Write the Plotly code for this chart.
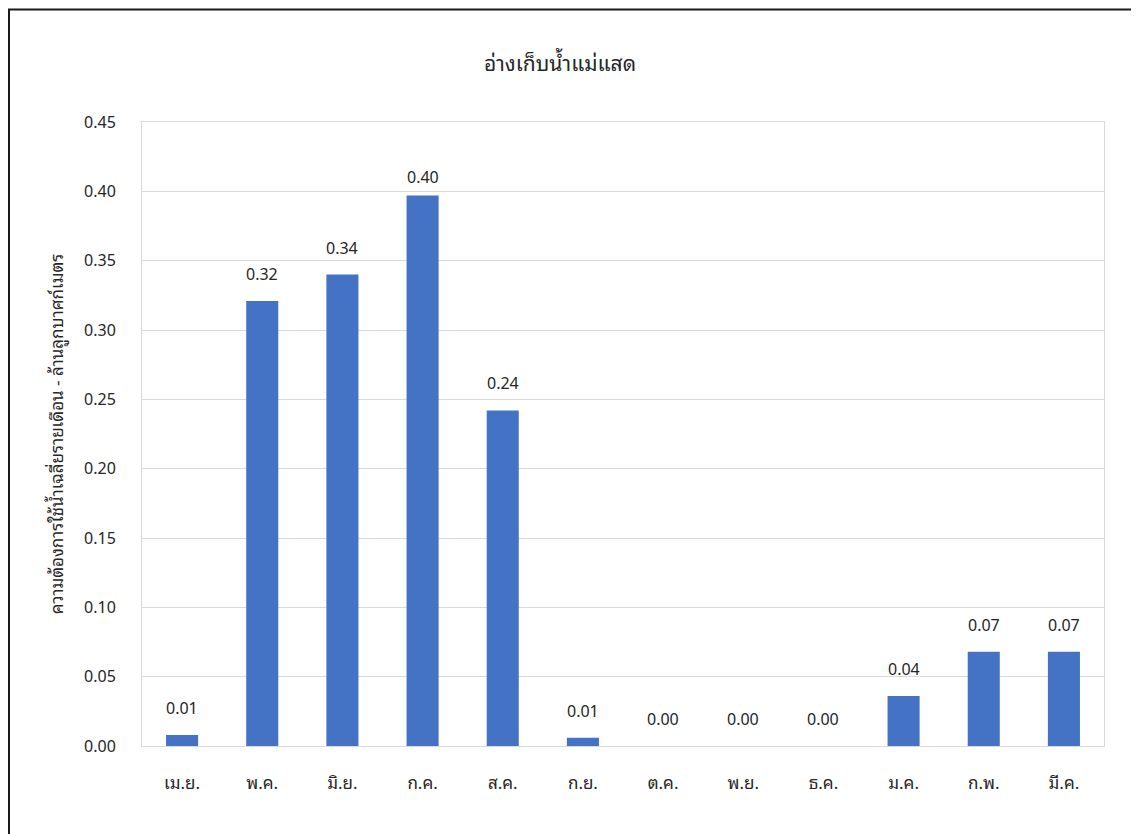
import plotly.graph_objects as go

months = ["เม.ย.", "พ.ค.", "มิ.ย.", "ก.ค.", "ส.ค.", "ก.ย.", "ต.ค.", "พ.ย.", "ธ.ค.", "ม.ค.", "ก.พ.", "มี.ค."]
demand = [0.008, 0.321, 0.340, 0.397, 0.242, 0.006, 0.0, 0.0, 0.0, 0.036, 0.068, 0.068]
title_text = "อ่างเก็บน้ำแม่แสด"
y_title = "ความต้องการใช้น้ำเฉลี่ยรายเดือน - ล้านลูกบาศก์เมตร"
y_ticks = [0.0, 0.05, 0.10, 0.15, 0.20, 0.25, 0.30, 0.35, 0.40, 0.45]

OFF = 8  # page body margin
W, H = 1139, 834
L, R, T, B = 142 - OFF, 35 + OFF, 122 - OFF, 88 + OFF
pw, ph = W - L - R, H - T - B

font_fam = "Tahoma, 'Noto Sans Thai Looped', 'Noto Sans', 'Noto Sans Thai', 'DejaVu Sans', sans-serif"
txt_col = "#262626"

fig = go.Figure(go.Bar(
    x=months, y=demand,
    marker=dict(color="#4472C4", line=dict(width=0)),
    width=0.4,
    hoverinfo="x+y",
))

for m, v in zip(months, demand):
    shift = 4 if v > 0.38 else 13
    fig.add_annotation(x=m, y=v, xref="x", yref="y", text=f"{v:.2f}",
                       showarrow=False, yanchor="bottom", yshift=shift,
                       font=dict(size=16, color=txt_col, family=font_fam))

def px_x(px):
    return (px - OFF - L) / pw

def px_y(py):
    return (H - B - (py - OFF)) / ph

fig.update_layout(
    width=W, height=H,
    margin=dict(l=L, r=R, t=T, b=B),
    paper_bgcolor="white", plot_bgcolor="white",
    font=dict(family=font_fam, color=txt_col, size=16),
    title=dict(text=title_text, x=(560 - OFF) / W, xanchor="center", y=1 - (64 - OFF) / H, yanchor="middle",
               font=dict(size=21, color=txt_col, family=font_fam)),
    showlegend=False,
    xaxis=dict(
        showline=True, linecolor="#D9D9D9", linewidth=1, mirror=True,
        showgrid=False, ticks="", ticklabelstandoff=22,
        tickfont=dict(size=17, color=txt_col),
        fixedrange=True,
    ),
    yaxis=dict(
        range=[0, 0.45], tickvals=y_ticks, tickformat=".2f",
        showline=True, linecolor="#D9D9D9", linewidth=1, mirror=True,
        showgrid=True, gridcolor="#D9D9D9", gridwidth=1,
        zeroline=False, ticks="", ticklabelstandoff=22,
        tickfont=dict(size=16, color=txt_col),
        title=dict(text=y_title, font=dict(size=17, color=txt_col), standoff=16),
        fixedrange=True,
    ),
    shapes=[dict(type="rect", xref="paper", yref="paper",
                 x0=px_x(9), x1=px_x(1160), y0=px_y(860), y1=px_y(9.5),
                 line=dict(color="#1a1a1a", width=2), fillcolor="rgba(0,0,0,0)", layer="below")],
)

fig.write_html("out.html")
